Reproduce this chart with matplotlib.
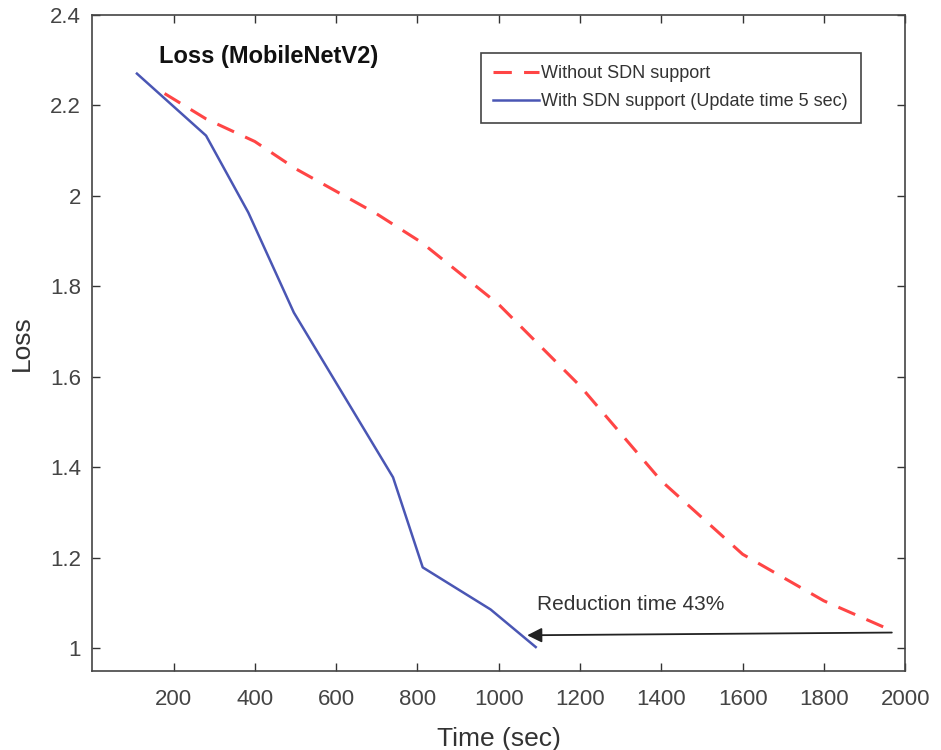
import numpy as np
import matplotlib
matplotlib.use("Agg")
import matplotlib.pyplot as plt

plt.rcParams['font.family'] = ['Liberation Sans', 'DejaVu Sans']

# data
t_sdn = [110, 280, 384, 496, 740, 813, 980, 1091]
loss_sdn = [2.27, 2.133, 1.963, 1.742, 1.378, 1.179, 1.086, 1.003]

t_nosdn = [178, 280, 400, 500, 600, 700, 810, 1000, 1100, 1200, 1400, 1600, 1800, 1960]
loss_nosdn = [2.226, 2.17, 2.12, 2.06, 2.01, 1.96, 1.897, 1.76, 1.67, 1.58, 1.37, 1.208, 1.105, 1.042]

xticks = [200, 400, 600, 800, 1000, 1200, 1400, 1600, 1800, 2000]
yticks = [1, 1.2, 1.4, 1.6, 1.8, 2, 2.2, 2.4]
ylabels = ['1', '1.2', '1.4', '1.6', '1.8', '2', '2.2', '2.4']

arrow_from = (1967, 1.035)
arrow_to = (1070, 1.029)

fig = plt.figure(figsize=(9.41, 7.5), dpi=100)
ax = fig.add_axes([0.098, 0.1053, 0.864, 0.875])

ax.plot(t_nosdn, loss_nosdn, color='#ff4545', lw=2.2, dashes=(6, 4),
        label='Without SDN support')
ax.plot(t_sdn, loss_sdn, color='#4a56b4', lw=1.8,
        label='With SDN support (Update time 5 sec)')

ax.set_xlim(0, 2000)
ax.set_ylim(0.95, 2.4)
ax.set_xticks(xticks)
ax.set_yticks(yticks)
ax.set_yticklabels(ylabels)
ax.tick_params(direction='in', top=True, right=True, length=6, width=1,
               labelsize=16, colors='#333333', labelcolor='#444444')
ax.tick_params(axis='x', pad=13)
ax.tick_params(axis='y', pad=8)
for s in ax.spines.values():
    s.set_color('#444444')
    s.set_linewidth(1.2)

ax.set_xlabel('Time (sec)', fontsize=19, color='#333333', labelpad=12)
ax.set_ylabel('Loss', fontsize=19, color='#333333', labelpad=12)

ax.text(165, 2.308, 'Loss (MobileNetV2)', fontsize=17, fontweight='bold',
        va='center', ha='left', color='#111111')

ax.annotate('', xy=arrow_to, xytext=arrow_from,
            arrowprops=dict(arrowstyle='-|>', color='#222222', lw=1.3,
                            mutation_scale=22, shrinkA=0, shrinkB=0))
ax.text(1095, 1.097, 'Reduction time 43%', fontsize=15, va='center',
        ha='left', color='#333333')

leg = ax.legend(loc='upper right', bbox_to_anchor=(0.945, 0.942),
                borderaxespad=0, fontsize=13, handlelength=2.5,
                fancybox=False, framealpha=1, borderpad=0.7,
                labelspacing=0.6, handletextpad=0.15)
leg.get_frame().set_edgecolor('#444444')
leg.get_frame().set_linewidth(1.2)
for txt in leg.get_texts():
    txt.set_color('#333333')

fig.savefig('out.png', dpi=100)
